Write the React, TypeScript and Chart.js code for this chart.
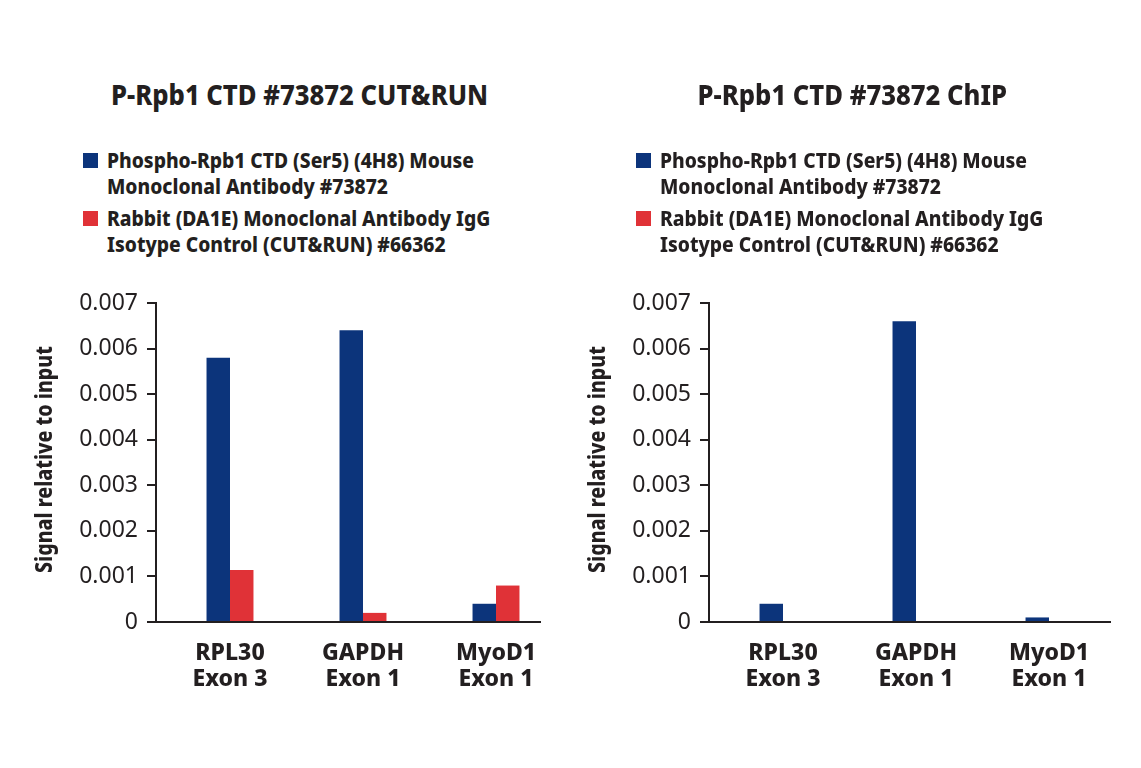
import React, { useEffect, useMemo, useRef } from "react";
import { Chart, registerables } from "chart.js";

Chart.register(...registerables);

// ---- data ----
const categories: string[][] = [
  ["RPL30", "Exon 3"],
  ["GAPDH", "Exon 1"],
  ["MyoD1", "Exon 1"],
];
const cutRunPhospho = [0.0058, 0.0064, 0.0004];
const cutRunIgG = [0.00114, 0.0002, 0.0008];
const chipPhospho = [0.0004, 0.0066, 0.0001];
const chipIgG = [0, 0, 0];
const yTickValues = [0, 0.001, 0.002, 0.003, 0.004, 0.005, 0.006, 0.007];
const yTickLabels = ["0", "0.001", "0.002", "0.003", "0.004", "0.005", "0.006", "0.007"];
const seriesNames = [
  ["Phospho-Rpb1 CTD (Ser5) (4H8) Mouse", "Monoclonal Antibody #73872"],
  ["Rabbit (DA1E) Monoclonal Antibody IgG", "Isotype Control (CUT&RUN) #66362"],
];
const titles = ["P-Rpb1 CTD #73872 CUT&RUN", "P-Rpb1 CTD #73872 ChIP"];
const yAxisTitle = "Signal relative to input";

const BLUE = "#0c347b";
const RED = "#e03237";
const TEXT = "#231f20";
const FALLBACK = '"DejaVu Sans Condensed", sans-serif';
const HEAVY = "800";

type FontChoice = { family: string; stretch: string };

function pickFont(): FontChoice {
  const ctx = document.createElement("canvas").getContext("2d")!;
  const cands: FontChoice[] = [
    { family: '"Liberation Sans Narrow"', stretch: "normal" },
    { family: '"Noto Sans"', stretch: "condensed" },
    { family: '"Open Sans"', stretch: "condensed" },
    { family: '"Noto Sans Condensed"', stretch: "normal" },
    { family: '"DejaVu Sans Condensed"', stretch: "normal" },
  ];
  let best = cands[cands.length - 1];
  let bestErr = Infinity;
  for (const c of cands) {
    const st = c.stretch === "normal" ? "" : c.stretch + " ";
    ctx.font = `bold ${st}29px ${c.family}, ${FALLBACK}`;
    const w = ctx.measureText(titles[0]).width;
    const err = Math.abs(w - 377);
    if (err < bestErr - 0.5) {
      bestErr = err;
      best = c;
    }
  }
  return best;
}

function measure(text: string, font: string): number {
  const ctx = document.createElement("canvas").getContext("2d")!;
  ctx.font = font;
  return ctx.measureText(text).width;
}

type PanelProps = {
  left: number;
  title: string;
  series: number[][];
  canvasWidth: number;
  axisWidth: number;
  font: FontChoice;
};

function BarPanel({ left, title, series, canvasWidth, axisWidth, font }: PanelProps) {
  const ref = useRef<HTMLCanvasElement | null>(null);
  const fam = `${font.family}, ${FALLBACK}`;
  const st = font.stretch === "normal" ? "" : " " + font.stretch;
  const boldW = HEAVY + st;
  const normW = "normal" + st;
  const unit = 133;
  const xMin = -74 / unit;
  const xMax = xMin + axisWidth / unit;

  useEffect(() => {
    if (!ref.current) return;
    const colors = [BLUE, RED];
    const yTitlePlugin = {
      id: "yTitle",
      afterDraw(chart: any) {
        const { ctx, chartArea } = chart;
        ctx.save();
        ctx.font = `${boldW} 23px ${fam}`;
        const w = ctx.measureText(yAxisTitle).width;
        const sx = Math.min(1.1, 227 / w);
        ctx.translate(45, (chartArea.top + chartArea.bottom) / 2 - 3);
        ctx.rotate(-Math.PI / 2);
        ctx.scale(sx, 1);
        ctx.fillStyle = TEXT;
        ctx.textAlign = "center";
        ctx.textBaseline = "middle";
        ctx.fillText(yAxisTitle, 0, 0);
        ctx.restore();
      },
    };
    const chart = new Chart(ref.current, {
      type: "bar",
      data: {
        datasets: series.map((vals, di) => ({
          label: seriesNames[di].join(" "),
          data: vals.map((v, i) => ({ x: i, y: v })),
          backgroundColor: colors[di],
          borderWidth: 0,
          categoryPercentage: 0.353,
          barPercentage: 1,
        })),
      },
      options: {
        animation: false,
        responsive: false,
        events: [],
        layout: { padding: { left: 0, right: canvasWidth - 156 - axisWidth, top: 23, bottom: 0 } },
        plugins: { legend: { display: false }, tooltip: { enabled: false }, title: { display: false } },
        scales: {
          x: {
            type: "linear",
            min: xMin,
            max: xMax,
            offset: false,
            grid: { display: false },
            border: { display: true, color: TEXT, width: 2 },
            afterBuildTicks: (scale: any) => {
              scale.ticks = categories.map((_, i) => ({ value: i }));
            },
            afterFit: (scale: any) => {
              scale.height = 78;
            },
            ticks: {
              autoSkip: false,
              maxRotation: 0,
              minRotation: 0,
              padding: 10,
              color: TEXT,
              font: { family: fam, size: 23, weight: boldW, lineHeight: 1.15 },
              callback: (v: any) => categories[v as number] ?? "",
            },
          },
          y: {
            min: 0,
            max: 0.007,
            grid: {
              display: true,
              drawOnChartArea: false,
              drawTicks: true,
              tickLength: 9,
              color: TEXT,
              lineWidth: 2,
            },
            border: { display: true, color: TEXT, width: 2 },
            afterBuildTicks: (scale: any) => {
              scale.ticks = yTickValues.map((v) => ({ value: v }));
            },
            afterFit: (scale: any) => {
              scale.width = 156;
            },
            ticks: {
              padding: 9,
              color: TEXT,
              font: { family: fam, size: 23, weight: normW },
              callback: (v: any) => {
                const idx = yTickValues.findIndex((t) => Math.abs(t - (v as number)) < 1e-9);
                return idx >= 0 ? yTickLabels[idx] : "";
              },
            },
          },
        },
      },
      plugins: [yTitlePlugin],
    } as any);
    return () => chart.destroy();
  }, []);

  const titleScale = Math.min(1.1, 377 / measure(titles[0], `${boldW} 29px ${fam}`));
  const legendScale = Math.min(1.1, 367 / measure(seriesNames[0][0], `${boldW} 21px ${fam}`));
  const legendTops = [147, 205];
  return (
    <div style={{ position: "absolute", left, top: 0, width: canvasWidth, height: 768 }}>
      <div
        style={{
          position: "absolute",
          left: 0,
          width: 599,
          top: 78,
          textAlign: "center",
        }}
      >
        <span
          style={{
            display: "inline-block",
            lineHeight: "31px",
            fontSize: 29,
            fontWeight: HEAVY as any,
            fontFamily: fam,
            fontStretch: font.stretch,
            color: TEXT,
            whiteSpace: "nowrap",
            transform: `scaleX(${titleScale})`,
            transformOrigin: "center top",
          }}
        >
          {title}
        </span>
      </div>
      {seriesNames.map((lines, i) => (
        <div key={i}>
          <div
            style={{
              position: "absolute",
              left: 83,
              top: legendTops[i] + 6,
              width: 15,
              height: 15,
              background: i === 0 ? BLUE : RED,
            }}
          />
          <div
            style={{
              position: "absolute",
              left: 107,
              top: legendTops[i],
              fontSize: 21,
              lineHeight: "26px",
              fontWeight: HEAVY as any,
              fontFamily: fam,
              fontStretch: font.stretch,
              color: TEXT,
              whiteSpace: "nowrap",
              transform: `scaleX(${legendScale})`,
              transformOrigin: "left top",
            }}
          >
            {lines.map((l, j) => (
              <div key={j}>{l}</div>
            ))}
          </div>
        </div>
      ))}
      <canvas
        ref={ref}
        width={canvasWidth}
        height={420}
        style={{ position: "absolute", left: 0, top: 280, width: canvasWidth, height: 420 }}
      />
    </div>
  );
}

export default function App() {
  const font = useMemo(() => pickFont(), []);
  return (
    <div
      style={{
        position: "absolute",
        left: 0,
        top: 0,
        width: 1141,
        height: 768,
        background: "#ffffff",
        overflow: "hidden",
      }}
    >
      <BarPanel left={0} title={titles[0]} series={[cutRunPhospho, cutRunIgG]} canvasWidth={560} axisWidth={384} font={font} />
      <BarPanel left={553} title={titles[1]} series={[chipPhospho, chipIgG]} canvasWidth={580} axisWidth={401} font={font} />
    </div>
  );
}
